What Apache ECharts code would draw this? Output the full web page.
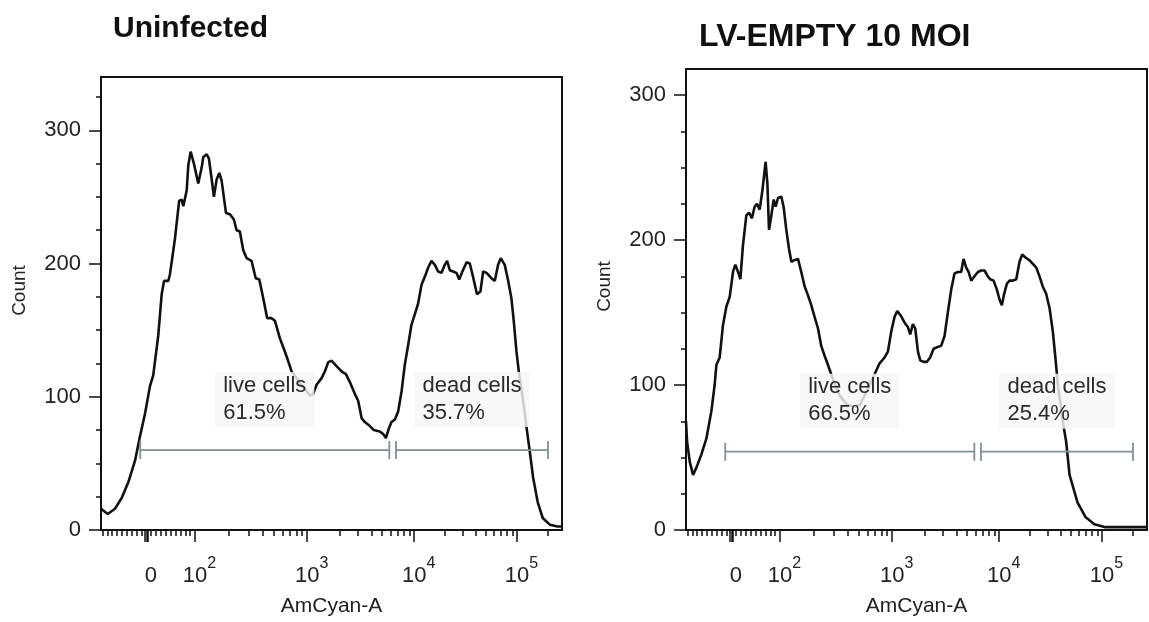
<!DOCTYPE html>
<html>
<head>
<meta charset="utf-8">
<title>AmCyan-A histograms</title>
<script src="https://cdn.jsdelivr.net/npm/echarts@6.0.0/dist/echarts.min.js"></script>
<style>
  html, body { margin: 0; padding: 0; background: #fff; }
  #main { width: 1149px; height: 622px; }
</style>
</head>
<body>
<div id="main"></div>
<script>
var panelTitles = ['Uninfected', 'LV-EMPTY 10 MOI'];

// histograms: [display channel (0-256 on the biex axis), count]
var uninfected = [
  [0,16],[3.7,12],[7.8,16],[11.5,24],[15.2,36],[18.9,52],[21.6,70],[24.4,87],[27.2,108],[29.0,116],
  [31.8,146],[33.7,177],[35.0,187],[37.4,187],[38.3,192],[41.1,219],[43.4,247],[44.8,248],[45.7,243],[47.6,255],
  [48.5,274],[49.8,284],[51.6,275],[54.0,260],[55.9,272],[56.8,280],[58.7,282],[59.9,279],[61.4,264],[62.7,250],
  [64.2,263],[65.7,268],[67.0,262],[69.4,238],[71.6,237],[73.8,233],[75.3,225],[77.1,224],[79.0,210],[80.9,204],
  [83.6,202],[85.9,189],[87.9,188],[90.1,174],[92.3,159],[94.7,159],[96.6,157],[99.3,144],[102.1,134],[104.9,123],
  [105.8,119],[116.0,101],[117.8,102],[119.7,109],[122.5,114],[124.3,119],[126.2,126],[128.1,127],[130.8,123],[133.6,119],
  [136.0,117],[138.2,111],[141.0,102],[142.8,97],[144.7,84],[146.5,81],[149.3,78],[151.5,75],[154.8,74],[156.7,72],
  [158.2,69],[159.8,76],[161.3,81],[163.2,83],[165.0,89],[166.9,104],[168.7,124],[170.6,139],[172.4,154],[174.3,162],
  [176.1,170],[178.0,184],[179.8,190],[181.7,197],[183.5,202],[185.4,199],[187.2,194],[189.1,193],[190.9,199],[192.2,202],
  [193.7,195],[195.5,194],[197.4,193],[198.9,188],[200.7,194],[203.0,201],[204.8,200],[206.6,190],[208.8,177],[210.7,179],
  [212.2,194],[214.1,193],[216.8,189],[218.7,187],[220.5,199],[222.0,204],[224.2,199],[226.1,187],[227.9,174],[229.2,157],
  [230.7,134],[232.2,117],[234.4,97],[236.3,77],[238.1,59],[240.0,39],[242.5,21],[245.3,9],[249.2,4],[253.6,2.6],[256,2.6]
];

var lvEmpty = [
  [0,75],[0.6,61],[2.1,47],[3.9,38],[5.8,43],[8.5,52],[11.3,63],[14.1,82],[15.9,100],[16.9,114],
  [18.7,119],[20.5,141],[22.4,154],[24.3,161],[26.1,178],[27.4,183],[28.9,178],[30.2,173],[31.6,196],[33.5,217],
  [35.0,219],[36.6,215],[38.1,223],[39.4,225],[40.9,221],[42.4,234],[43.3,235],[44.2,254],[45.2,239],[46.1,207],
  [47.4,217],[48.7,228],[49.8,223],[51.1,229],[52.9,230],[54.2,223],[55.7,207],[57.2,194],[58.5,185],[59.8,186],
  [62.2,187],[64.0,178],[65.9,168],[67.7,162],[69.6,155],[71.4,147],[73.3,139],[75.1,127],[77.0,120],[78.5,115],
  [81.6,104],[85.3,93],[89.0,87],[92.7,85],[96.4,86],[100.1,95],[103.8,105],[107.5,115],[110.3,119],[112.1,123],
  [114.0,137],[115.8,147],[117.3,151],[119.2,148],[121.4,143],[123.2,140],[124.5,135],[126.0,142],[127.3,139],[128.8,123],
  [130.1,117],[131.9,116],[133.8,116],[135.6,119],[137.5,125],[139.3,126],[141.7,127],[143.6,134],[145.4,150],[147.3,166],
  [149.1,177],[151.0,178],[152.8,178],[154.1,187],[155.6,181],[156.9,178],[158.4,172],[160.2,175],[162.1,178],[163.9,179],
  [165.8,179],[167.6,175],[168.9,173],[170.8,172],[172.6,166],[174.1,159],[175.4,155],[176.5,162],[178.2,170],[179.7,172],
  [181.5,172],[183.4,173],[185.2,185],[186.7,190],[188.5,188],[190.8,186],[193.0,183],[194.5,181],[196.3,175],[198.1,168],
  [200.0,163],[201.9,153],[203.7,137],[205.2,118],[206.5,100],[208.3,84],[209.6,72],[211.1,61],[213.0,38],[217.4,19],
  [221.8,9],[226.8,4],[232.4,2],[256,2]
];

// gates (channels) and their results
var gateNames = ['live cells', 'dead cells'];
var gateRanges = [[21.8, 160.1], [163.8, 248.2]];
var gateLevels = [60, 54];
var gatePercents = [['61.5%', '35.7%'], ['66.5%', '25.4%']];

// count axis
var countMax = [340, 318];
var countTicks = [0, 25, 50, 75, 100, 125, 150, 175, 200, 225, 250, 275, 300, 325];
var countLabels = [0, 100, 200, 300];

// AmCyan-A axis: linear near zero, log per decade above 100
var decadeValues = [100, 1000, 10000, 100000];
var decadeChannels = [52.2, 114.5, 173.9, 231.0];
var xLabelValues = [0, 100, 1000, 10000, 100000];
var xLabelBases = ['0', '10', '10', '10', '10'];
var xLabelPowers = ['', '2', '3', '4', '5'];

var FONT = "'Liberation Sans', Arial, Helvetica, sans-serif";

function toChannel(v) {
  var slope = (decadeChannels[1] - decadeChannels[0]) / (decadeValues[0] * Math.LN10);
  if (v <= decadeValues[0]) return decadeChannels[0] + (v - decadeValues[0]) * slope;
  for (var i = 0; i < decadeValues.length - 1; i++) {
    if (v <= decadeValues[i + 1]) {
      return decadeChannels[i] + (decadeChannels[i + 1] - decadeChannels[i]) * Math.log10(v / decadeValues[i]);
    }
  }
  var n = decadeValues.length - 1;
  return decadeChannels[n] + (decadeChannels[n] - decadeChannels[n - 1]) * Math.log10(v / decadeValues[n]);
}

var minorValues = [];
for (var k = -90; k <= 90; k += 10) { if (k !== 0) minorValues.push(k); }
decadeValues.slice(0, 3).forEach(function (d) {
  for (var m = 2; m <= 9; m++) minorValues.push(m * d);
});
minorValues.push(200000);

var minorChannels = minorValues.map(toChannel);
var majorLabelChannels = xLabelValues.map(toChannel);
// the zero tick is drawn heavy, as a cluster
var majorTickChannels = [-3, 3].map(toChannel).concat(majorLabelChannels);

function xLabel(value) {
  for (var i = 0; i < majorLabelChannels.length; i++) {
    if (Math.abs(majorLabelChannels[i] - value) < 0.01) {
      return '{b|' + xLabelBases[i] + '}{s|' + (xLabelPowers[i] || '\u200b') + '}';
    }
  }
  return '';
}

var measureCtx = document.createElement('canvas').getContext('2d');
measureCtx.font = '22px ' + FONT;

var grids = [
  { left: 101, top: 77, width: 461, height: 456 },
  { left: 686, top: 69, width: 461, height: 463 }
];

var option = {
  animation: false,
  backgroundColor: '#fff',
  title: [
    { text: panelTitles[0], left: 108, top: 9, textStyle: { fontFamily: FONT, fontSize: 30, fontWeight: 'bold', color: '#111' } },
    { text: panelTitles[1], left: 694, top: 16, textStyle: { fontFamily: FONT, fontSize: 32, fontWeight: 'bold', color: '#111' } }
  ],
  grid: [],
  xAxis: [],
  yAxis: [],
  series: []
};

[uninfected, lvEmpty].forEach(function (hist, p) {
  var g = grids[p];
  option.grid.push({ left: g.left, top: g.top, width: g.width, height: g.height, show: true, borderColor: '#111', borderWidth: 2, containLabel: false });

  // minor x ticks + axis line
  option.xAxis.push({
    type: 'value', gridIndex: p, min: 0, max: 256, position: 'bottom',
    axisLine: { show: true, onZero: false, lineStyle: { color: '#111', width: 2 } },
    axisTick: { show: true, customValues: minorChannels, length: 6, lineStyle: { color: '#111', width: 1.5 } },
    axisLabel: { show: false },
    splitLine: { show: false }
  });
  // major x ticks + labels
  option.xAxis.push({
    type: 'value', gridIndex: p, min: 0, max: 256, position: 'bottom',
    name: 'AmCyan-A', nameLocation: 'middle', nameGap: 66,
    nameTextStyle: { fontFamily: FONT, fontSize: 21, color: '#222' },
    axisLine: { show: false, onZero: false },
    axisTick: { show: true, customValues: majorTickChannels, length: 12, lineStyle: { color: '#111', width: 1.5 } },
    axisLabel: {
      show: true, customValues: majorLabelChannels, formatter: xLabel,
      verticalAlign: 'bottom', margin: 57,
      rich: {
        b: { fontFamily: FONT, fontSize: 22, color: '#222', lineHeight: 22, verticalAlign: 'bottom', padding: [0, 0, 0, 9] },
        s: { fontFamily: FONT, fontSize: 16, color: '#222', lineHeight: 16, verticalAlign: 'bottom', padding: [0, 0, 15, 0] }
      }
    },
    splitLine: { show: false }
  });

  // minor y ticks + axis line
  option.yAxis.push({
    type: 'value', gridIndex: p, min: 0, max: countMax[p], position: 'left',
    axisLine: { show: true, onZero: false, lineStyle: { color: '#111', width: 2 } },
    axisTick: { show: true, customValues: countTicks, length: 5, lineStyle: { color: '#111', width: 1.5 } },
    axisLabel: { show: false },
    splitLine: { show: false }
  });
  // labelled y ticks
  option.yAxis.push({
    type: 'value', gridIndex: p, min: 0, max: countMax[p], position: 'left',
    name: 'Count', nameLocation: 'middle', nameGap: 72,
    nameTextStyle: { fontFamily: FONT, fontSize: 19, color: '#222', padding: [0, 0, 0, 26] },
    axisLine: { show: false, onZero: false },
    axisTick: { show: true, customValues: countLabels, length: 12, lineStyle: { color: '#111', width: 1.5 } },
    axisLabel: { show: true, customValues: countLabels, margin: 20, fontFamily: FONT, fontSize: 22, color: '#222' },
    splitLine: { show: false }
  });

  option.series.push({
    type: 'line', xAxisIndex: p * 2, yAxisIndex: p * 2,
    data: hist, showSymbol: false, symbol: 'none', smooth: false,
    lineStyle: { color: '#111', width: 2.6 }, z: 2
  });

  option.series.push({
    type: 'custom', xAxisIndex: p * 2, yAxisIndex: p * 2, z: 5,
    encode: { x: [0, 1], y: 2 },
    data: gateRanges.map(function (r) { return [r[0], r[1], gateLevels[p]]; }),
    renderItem: function (params, api) {
      var i = params.dataIndex;
      var a = api.coord([api.value(0), api.value(2)]);
      var b = api.coord([api.value(1), api.value(2)]);
      var gs = { stroke: '#7f9090', lineWidth: 1.8 };
      var t1 = gateNames[i], t2 = gatePercents[p][i];
      var w = Math.max(measureCtx.measureText(t1).width, measureCtx.measureText(t2).width) + 16;
      var cx = (a[0] + b[0]) / 2;
      return {
        type: 'group',
        children: [
          { type: 'line', shape: { x1: a[0], y1: a[1], x2: b[0], y2: b[1] }, style: gs },
          { type: 'line', shape: { x1: a[0], y1: a[1] - 9, x2: a[0], y2: a[1] + 9 }, style: gs },
          { type: 'line', shape: { x1: b[0], y1: b[1] - 9, x2: b[0], y2: b[1] + 9 }, style: gs },
          {
            type: 'text', z2: 10,
            style: {
              text: t1 + '\n' + t2, x: cx - w / 2, y: a[1] - 23,
              align: 'left', verticalAlign: 'bottom',
              font: '22px ' + FONT, fill: '#2a2a2a', lineHeight: 27,
              backgroundColor: 'rgba(246,246,246,0.82)', padding: [0, 8, 1, 8]
            }
          }
        ]
      };
    }
  });
});

var chart = echarts.init(document.getElementById('main'), null, { renderer: 'canvas' });
chart.setOption(option);
</script>
</body>
</html>
